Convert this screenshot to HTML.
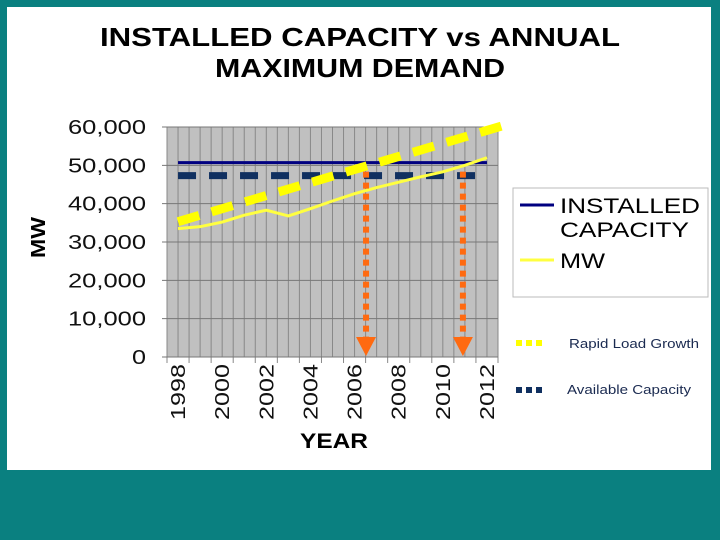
<!DOCTYPE html>
<html><head><meta charset="utf-8"><style>
body{margin:0;width:720px;height:540px;background:#0a8080;overflow:hidden;font-family:"Liberation Sans",sans-serif}
#panel{position:absolute;left:7px;top:7px;width:704px;height:463px;background:#fff}
</style></head><body>
<div id="panel"></div>
<svg id="chart" width="720" height="540" style="position:absolute;left:0;top:0">
<text x="100" y="46" textLength="520" lengthAdjust="spacingAndGlyphs" font-size="26" font-weight="bold">INSTALLED CAPACITY vs ANNUAL</text>
<text x="215" y="77" textLength="290" lengthAdjust="spacingAndGlyphs" font-size="26" font-weight="bold">MAXIMUM DEMAND</text>
<text transform="translate(45,217) rotate(-90)" x="-41" textLength="41" lengthAdjust="spacingAndGlyphs" font-size="20" font-weight="bold">MW</text>
<text x="300" y="448" textLength="68" lengthAdjust="spacingAndGlyphs" font-size="21" font-weight="bold">YEAR</text>
<g id="plot"></g>
<rect x="513" y="188" width="195" height="109" fill="#fff" stroke="#bbb"/>
<line x1="520" y1="205" x2="554" y2="205" stroke="#000080" stroke-width="3"/>
<text x="560" y="213" textLength="140" lengthAdjust="spacingAndGlyphs" font-size="21">INSTALLED</text>
<text x="560" y="237" textLength="129" lengthAdjust="spacingAndGlyphs" font-size="21">CAPACITY</text>
<line x1="520" y1="260" x2="554" y2="260" stroke="#ffff40" stroke-width="3"/>
<text x="560" y="268" textLength="45" lengthAdjust="spacingAndGlyphs" font-size="21">MW</text>
<line x1="516" y1="343" x2="544" y2="343" stroke="#ffff00" stroke-width="6" stroke-dasharray="6,4"/>
<text x="569" y="348" textLength="130" lengthAdjust="spacingAndGlyphs" font-size="13" fill="#1a2a50">Rapid Load Growth</text>
<line x1="516" y1="390" x2="544" y2="390" stroke="#103060" stroke-width="6" stroke-dasharray="6,4"/>
<text x="567" y="394" textLength="124" lengthAdjust="spacingAndGlyphs" font-size="13" fill="#1a2a50">Available Capacity</text>
</svg>
<script>
const years=[1998,1999,2000,2001,2002,2003,2004,2005,2006,2007,2008,2009,2010,2011,2012];
const mw=[33500,34000,35200,37000,38300,36800,38700,40700,42600,44200,45600,47000,48300,50000,52000];
const installed=[50700,50700,50700,50700,50700,50700,50700,50700,50700,50700,50700,50700,50700,50700,50700];
const available=[47300,47300,47300,47300,47300,47300,47300,47300,47300,47300,47300,47300,47300,47300,47300];
const rapidStart=35300, rapidEnd=58800;
const arrowYears=[2006.52,2010.91];
const yTicks=[0,10000,20000,30000,40000,50000,60000];
const yTickLabels=["0","10,000","20,000","30,000","40,000","50,000","60,000"];
const NS="http://www.w3.org/2000/svg";
const L=167,R=498,T=127,B=357,cw=(R-L)/years.length;
const x=i=>L+cw*(i+0.5);
const xy=yr=>x(yr-years[0]);
const y=v=>B-(v/60000)*(B-T);
const g=document.getElementById('plot');
function mk(t,a){const e=document.createElementNS(NS,t);for(const k in a)e.setAttribute(k,a[k]);g.appendChild(e);return e;}
let e=mk('rect',{x:L,y:T,width:R-L,height:B-T,fill:'#c0c0c0'});


for(let i=0;i<=years.length*2;i++){const xx=L+cw*i/2;e=mk('line',{x1:xx,y1:T,x2:xx,y2:B,stroke:'#888','stroke-width':1});

}
for(let i=0;i<=years.length;i++){const xx=L+cw*i;e=mk('line',{x1:xx,y1:B,x2:xx,y2:B+6,stroke:'#888'});

}
yTicks.forEach((v,i)=>{e=mk('line',{x1:L-5,y1:y(v),x2:R,y2:y(v),stroke:'#777'});


const lbl=yTickLabels[i];
const w=lbl.length>1?78:14;
e=mk('text',{x:146-w,y:y(v)+7,textLength:w,lengthAdjust:'spacingAndGlyphs','font-size':20,fill:'#111'});e.textContent=lbl;

});
years.forEach((yr,i)=>{if(i%2)return;e=mk('text',{transform:`translate(${x(i)+7},${B+63}) rotate(-90)`,textLength:56,lengthAdjust:'spacingAndGlyphs','font-size':20,fill:'#111'});e.textContent=yr;

});
const pts=a=>a.map((v,i)=>x(i)+','+y(v)).join(' ');
e=mk('polyline',{points:pts(installed),fill:'none',stroke:'#000080','stroke-width':3});


e=mk('polyline',{points:pts(available),fill:'none',stroke:'#103060','stroke-width':7,'stroke-dasharray':'18,13'});


e=mk('polyline',{points:pts(mw),fill:'none',stroke:'#ffff40','stroke-width':3});


e=mk('line',{x1:x(0),y1:y(rapidStart),x2:x(14)+18,y2:y(rapidEnd+1700),stroke:'#ffff00','stroke-width':9,'stroke-dasharray':'22,13'});


arrowYears.forEach(a=>{const xx=xy(a);e=mk('line',{x1:xx,y1:y(available[0])-4,x2:xx,y2:B-18,stroke:'#ff6a10','stroke-width':6,'stroke-dasharray':'6,5'});


e=mk('polygon',{points:`${xx-10},${B-20} ${xx+10},${B-20} ${xx},${B-1}`,fill:'#ff6a10'});

});
</script>
</body></html>
